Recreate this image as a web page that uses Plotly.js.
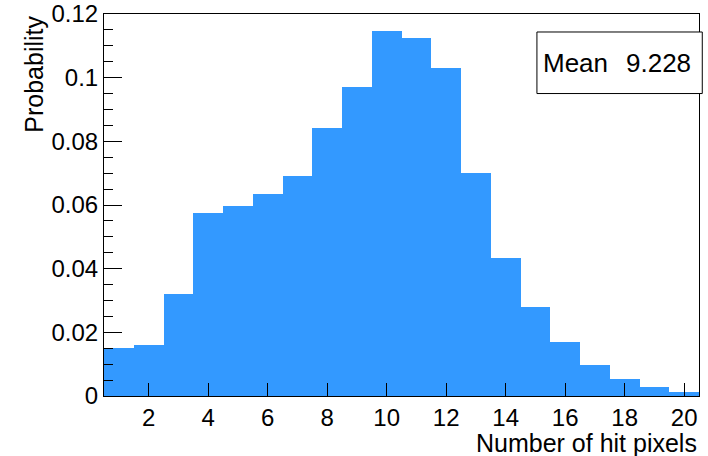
<!DOCTYPE html>
<html>
<head>
<meta charset="utf-8">
<script src="https://cdn.plot.ly/plotly-3.0.1.min.js"></script>
<style>html,body{margin:0;padding:0;background:#fff;}#chart{width:708px;height:456px;}</style>
</head>
<body>
<div id="chart"></div>
<script>
// Bin centres (number of hit pixels) and normalised probabilities
const binCenters = [1, 2, 3, 4, 5, 6, 7, 8, 9, 10, 11, 12, 13, 14, 15, 16, 17, 18, 19, 20];
const probability = [0.0151, 0.0161, 0.0321, 0.0576, 0.0596, 0.0636, 0.0690, 0.0843, 0.0972, 0.1147,
                     0.1126, 0.1029, 0.0702, 0.0435, 0.0279, 0.0170, 0.0097, 0.0053, 0.0029, 0.0012];
const statName = "Mean";
const statValue = "9.228";
const xTitle = "Number of hit pixels";
const yTitle = "Probability";

const font = "Liberation Sans, Arial, Helvetica, sans-serif";

const trace = {
  type: "bar",
  x: binCenters,
  y: probability,
  width: 1,
  marker: { color: "rgb(51,153,255)", line: { width: 0 } },
  hoverinfo: "x+y"
};

const layout = {
  width: 708, height: 456,
  margin: { l: 104, r: 9, t: 14, b: 60 },
  paper_bgcolor: "#fff", plot_bgcolor: "#fff",
  showlegend: false,
  bargap: 0,
  font: { family: font, color: "#000" },
  xaxis: {
    range: [0.5, 20.5], tick0: 0, dtick: 2,
    ticks: "inside", ticklen: 13, tickwidth: 1, tickcolor: "#000",
    showline: true, linecolor: "#000", linewidth: 1, mirror: true,
    showgrid: false, zeroline: false,
    tickfont: { family: font, size: 24, color: "#000" }
  },
  yaxis: {
    range: [0, 0.12], tick0: 0, dtick: 0.02,
    ticks: "inside", ticklen: 18, tickwidth: 1, tickcolor: "#000",
    minor: { ticks: "inside", ticklen: 9, dtick: 0.005, tickcolor: "#000", tickwidth: 1, showgrid: false },
    showline: true, linecolor: "#000", linewidth: 1, mirror: true,
    showgrid: false, zeroline: false,
    tickfont: { family: font, size: 24, color: "#000" }
  },
  shapes: [{
    type: "rect", xref: "paper", yref: "paper",
    x0: 0.7276, x1: 1.0055, y0: 0.7918, y1: 0.9529,
    line: { color: "#000", width: 1 }, fillcolor: "#fff", layer: "above"
  }],
  annotations: [
    { text: statName, xref: "paper", yref: "paper", x: 0.7345, y: 0.873, xanchor: "left", yanchor: "middle",
      showarrow: false, font: { family: font, size: 26, color: "#000" } },
    { text: statValue, xref: "paper", yref: "paper", x: 0.99, y: 0.873, xanchor: "right", yanchor: "middle",
      showarrow: false, font: { family: font, size: 26, color: "#000" } },
    { text: xTitle, xref: "paper", yref: "paper", x: 1.0, y: -0.122, xanchor: "right", yanchor: "middle",
      showarrow: false, font: { family: font, size: 25, color: "#000" } },
    { text: yTitle, xref: "paper", yref: "paper", x: -0.119, y: 1.0, xanchor: "center", yanchor: "top",
      textangle: -90, showarrow: false, font: { family: font, size: 25, color: "#000" } }
  ]
};

Plotly.newPlot("chart", [trace], layout, { displayModeBar: false, staticPlot: true });
</script>
</body>
</html>
